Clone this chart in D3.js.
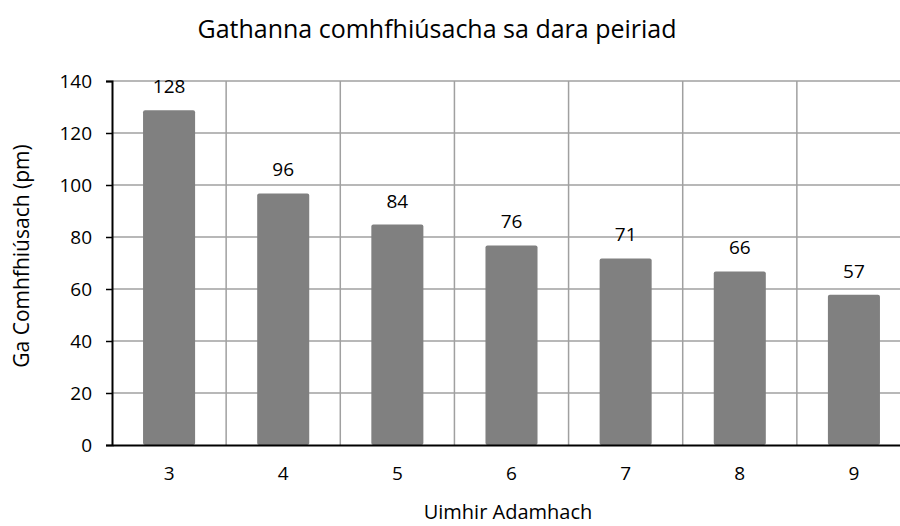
<!DOCTYPE html>
<html>
<head>
<meta charset="utf-8">
<script src="https://cdn.jsdelivr.net/npm/d3@7"></script>
<style>
  body { margin: 0; background: #fff; }
  text { font-family: "Open Sans", "Noto Sans", sans-serif; fill: #000; }
</style>
</head>
<body>
<div id="chart"></div>
<script>
const width = 900;
const height = 526;

const categories = ["3", "4", "5", "6", "7", "8", "9"];
const radii = [128, 96, 84, 76, 71, 66, 57];
const yTicks = [0, 20, 40, 60, 80, 100, 120, 140];

const margin = { left: 112, right: -11, top: 81, bottom: 81 };

const svg = d3
	.select("#chart")
	.append("svg")
	.attr("width", width)
	.attr("height", height);

const x = d3
	.scaleBand()
	.domain(categories)
	.range([margin.left, width - margin.right])
	.paddingInner(0.544)
	.paddingOuter(0.272);

const y = d3
	.scaleLinear()
	.domain([0, 140])
	.range([height - margin.bottom, margin.top]);

// vertical gridlines between categories
const step = x.step();
const gridX = d3.range(categories.length + 1).map((i) => margin.left + i * step);

svg.append("g")
	.selectAll("line")
	.data(gridX.slice(1))
	.join("line")
	.attr("x1", (d) => d)
	.attr("x2", (d) => d)
	.attr("y1", y(140))
	.attr("y2", y(0))
	.attr("stroke", "#a0a0a0")
	.attr("stroke-width", 1.5);

// horizontal gridlines
svg.append("g")
	.selectAll("line")
	.data(yTicks.slice(1))
	.join("line")
	.attr("x1", margin.left)
	.attr("x2", width - margin.right)
	.attr("y1", (d) => y(d))
	.attr("y2", (d) => y(d))
	.attr("stroke", "#a0a0a0")
	.attr("stroke-width", 1.5);

// bars
svg.append("g")
	.selectAll("rect")
	.data(radii)
	.join("rect")
	.attr("x", (d, i) => x(categories[i]))
	.attr("width", x.bandwidth())
	.attr("y", (d) => y(d) - 2)
	.attr("height", (d) => y(0) - y(d) + 2)
	.attr("rx", 2)
	.attr("fill", "#808080");

// data labels
svg.append("g")
	.selectAll("text")
	.data(radii)
	.join("text")
	.attr("x", (d, i) => x(categories[i]) + x.bandwidth() / 2)
	.attr("y", (d) => y(d) - 19)
	.attr("text-anchor", "middle")
	.attr("font-size", 19)
	.text((d) => d);

// y axis
const yAxis = svg.append("g")
	.attr("transform", `translate(${margin.left},0)`)
	.call(d3.axisLeft(y).tickValues(yTicks).tickSize(6).tickPadding(14));
yAxis.attr("font-size", 19).attr("font-family", null);
yAxis.select(".domain").attr("stroke", "#000").attr("stroke-width", 2);
yAxis.selectAll(".tick line").attr("stroke", "#000").attr("stroke-width", 1.5);

// x axis
const xAxis = svg.append("g")
	.attr("transform", `translate(0,${y(0)})`)
	.call(d3.axisBottom(x).tickSize(0).tickPadding(22));
xAxis.attr("font-size", 19).attr("font-family", null);
xAxis.select(".domain").attr("stroke", "#000").attr("stroke-width", 2);

// title
svg.append("text")
	.attr("x", 437)
	.attr("y", 38)
	.attr("text-anchor", "middle")
	.attr("font-size", 25)
	.text("Gathanna comhfhiúsacha sa dara peiriad");

// axis titles
svg.append("text")
	.attr("x", 508)
	.attr("y", 519)
	.attr("text-anchor", "middle")
	.attr("font-size", 20)
	.text("Uimhir Adamhach");

svg.append("text")
	.attr("transform", `translate(29,256) rotate(-90)`)
	.attr("text-anchor", "middle")
	.attr("font-size", 21)
	.text("Ga Comhfhiúsach (pm)");
</script>
</body>
</html>
